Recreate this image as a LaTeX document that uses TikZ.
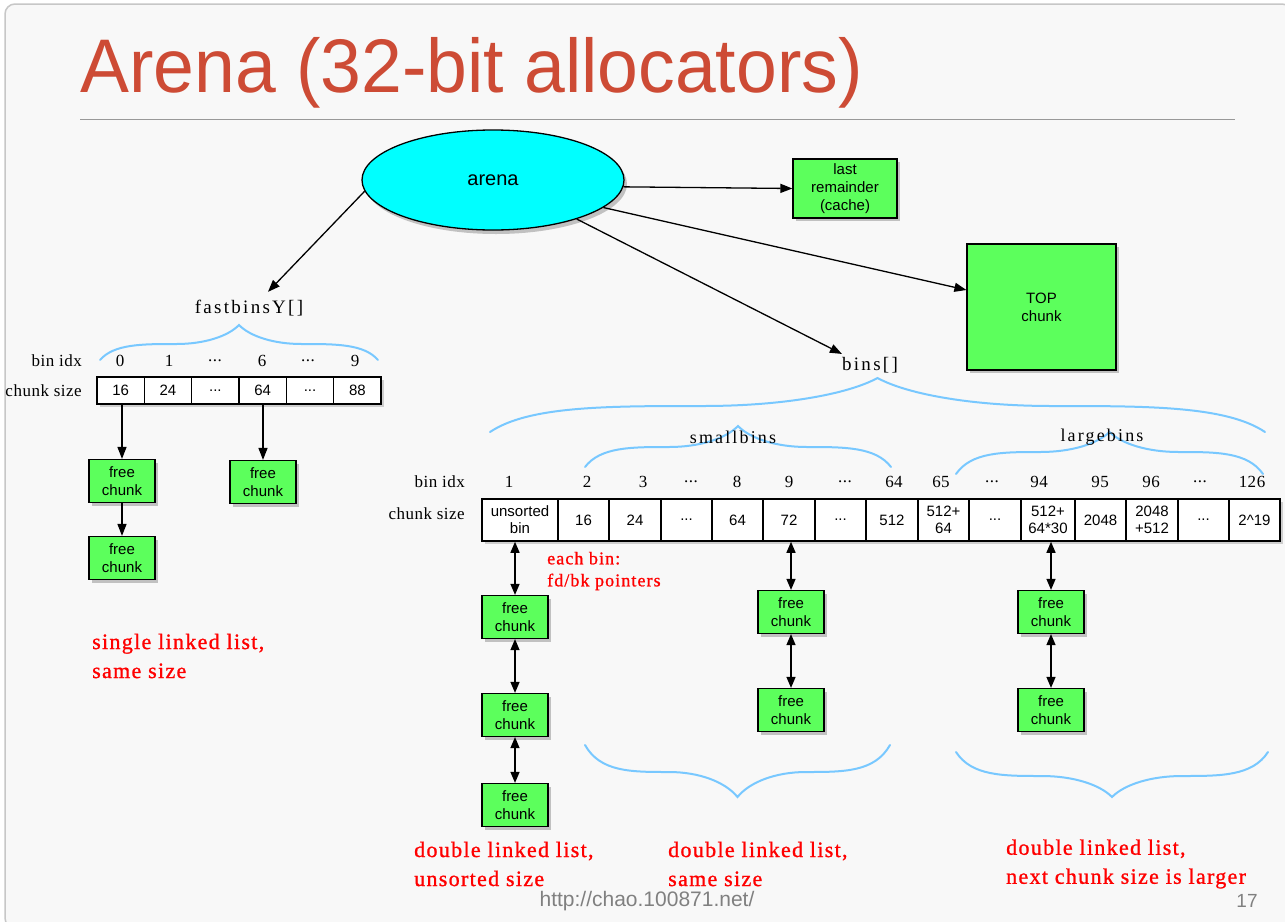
\documentclass[tikz,border=0pt]{standalone}
\usepackage{fontspec}
\setmainfont{Liberation Sans}
\newfontfamily\titlefont{Liberation Sans}
\newfontfamily\lblfont{Liberation Serif}[LetterSpace=3]
\newfontfamily\widefont{Liberation Serif}[LetterSpace=12]
\newfontfamily\redfont{Liberation Serif}[LetterSpace=6,FakeBold=1]
\usetikzlibrary{shapes.geometric,shadows,arrows.meta}

\definecolor{titlered}{RGB}{205,75,53}
\definecolor{chunkgreen}{RGB}{92,255,92}
\definecolor{arenacyan}{RGB}{0,255,255}
\definecolor{braceblue}{RGB}{120,200,255}
\definecolor{slidebg}{RGB}{248,248,248}

\newcommand\skipdots{...}

\tikzset{
  chunkbox/.style={draw, line width=1.2pt, fill=chunkgreen, align=center, inner sep=0pt,
    minimum width=66pt, minimum height=43pt, font=\fontsize{15}{18}\selectfont,
    drop shadow={shadow xshift=3pt, shadow yshift=-3pt, opacity=0.45}},
  cell/.style={draw, line width=1.5pt, fill=white, align=center, inner sep=0pt,
    font=\fontsize{15}{17}\selectfont,
    drop shadow={shadow xshift=3pt, shadow yshift=-3pt, opacity=0.35}},
  bluebrace/.style={draw=braceblue, line width=2pt, line cap=round},
  ptr/.style={-{Triangle[length=12pt,width=9pt]}, line width=1.3pt},
  dptr/.style={{Triangle[length=11pt,width=9pt]}-{Triangle[length=11pt,width=9pt]}, line width=1.3pt},
  idx/.style={inner sep=0pt, font=\lblfont\fontsize{17}{19}\selectfont},
  wide/.style={inner sep=0pt, font=\widefont\fontsize{19}{21}\selectfont},
  note/.style={text=red, align=left, inner sep=0pt, anchor=west},
}

\begin{document}
\begin{tikzpicture}[x=1pt,y=-1pt]

\useasboundingbox (0,0) rectangle (1285,921);
\fill[white] (0,0) rectangle (1285,921);
\draw[black!22, line width=1.5pt, fill=slidebg, rounded corners=10pt] (5,4) rectangle (1292,928);

% title
\node[anchor=base west, inner sep=0pt, text=titlered, xscale=0.965,
  font=\titlefont\fontsize{76}{80}\selectfont] (title) at (80,92) {Arena (32-bit allocators)};
\draw[black!40, line width=1pt] (80,119) -- (1235,119);

% arena and its direct children
\node[ellipse, draw, line width=1.3pt, fill=arenacyan, minimum width=262pt, minimum height=100pt,
  font=\fontsize{20}{24}\selectfont,
  drop shadow={shadow xshift=3pt, shadow yshift=-4pt, opacity=0.45}] (arena) at (493,180) {arena};
\node[chunkbox, minimum width=104pt, minimum height=59pt] (lastrem) at (845,188.5) {last\\remainder\\(cache)};
\node[chunkbox, minimum width=149pt, minimum height=126pt] (topchunk) at (1041.5,307) {TOP\\chunk};

\node[wide] (fastbins) at (249,308) {fastbinsY[]};
\node[wide] (binslbl) at (870,365) {bins[]};

\draw[ptr] (arena.185) -- ([xshift=19pt,yshift=8pt]fastbins.north);
\draw[ptr] (arena.-3) -- (lastrem.west);
\draw[ptr] (arena.-14) -- ([yshift=17pt]topchunk.west);
\draw[ptr] (arena.-25) -- ([yshift=3pt]binslbl.north west);

% braces
\foreach \xa/\xb/\ye/\yb/\yt in {100/378/360/344/325, 490/1265/432/406/378,
    585/891/467/447/426, 956/1263/474/452/432, 585/890/745/772/797, 956/1268/752/776/797}{
  \pgfmathsetmacro\hw{(\xb-\xa)/2}
  \pgfmathsetmacro\xm{(\xa+\xb)/2}
  \draw[bluebrace] (\xa,\ye)
    .. controls ({\xa+0.1*\hw},\yb) and ({\xa+0.3*\hw},\yb) .. ({\xa+0.55*\hw},\yb)
    .. controls ({\xm-0.25*\hw},\yb) and ({\xm-0.08*\hw},{\yb+0.4*(\yt-\yb)}) .. (\xm,\yt)
    .. controls ({\xm+0.08*\hw},{\yb+0.4*(\yt-\yb)}) and ({\xm+0.25*\hw},\yb) .. ({\xb-0.55*\hw},\yb)
    .. controls ({\xb-0.3*\hw},\yb) and ({\xb-0.1*\hw},\yb) .. (\xb,\ye);
}

\node[wide, font=\widefont\fontsize{18}{20}\selectfont] (smalllbl) at (733,437) {smallbins};
\node[wide, font=\widefont\fontsize{18}{20}\selectfont] (largelbl) at (1102,437) {largebins};

% fastbins table
\node[idx, anchor=east] (fidx) at (82,361) {bin idx};
\node[idx, anchor=east] (fsize) at (82,391) {chunk size};
\foreach \x/\t in {120/0, 169/1, 215/\skipdots, 262/6, 308/\skipdots, 355/9}
  \node[idx] at (\x,361) {\t};
\foreach \n/\xa/\xb/\t in {c0/97/144.3/16, c1/144.3/191.7/24, c2/191.7/239/\skipdots, c3/239/286.3/64,
    c4/286.3/333.7/\skipdots, c5/333.7/381/88}
  \node[cell, minimum width={(\xb-\xa)*1pt}, minimum height=27pt] (\n) at ({(\xa+\xb)/2},390.5) {\t};

\node[chunkbox] (f1) at (122,481) {free\\chunk};
\node[chunkbox] (f2) at (122,558) {free\\chunk};
\node[chunkbox] (f3) at (263,482) {free\\chunk};
\draw[ptr] (f1 |- c0.south) -- (f1.north);
\draw[ptr] (f1) -- (f2);
\draw[ptr] (f3 |- c3.south) -- (f3.north);

\node[note, font=\redfont\fontsize{22}{29}\selectfont] (fastnote) at (92,656) {single linked list,\\same size};

% bins table
\node[idx, anchor=east] (bidx) at (465,482) {bin idx};
\node[idx, anchor=east] (bsize) at (465,514) {chunk size};
\foreach \x/\t in {509/1, 587/2, 643/3, 691/\skipdots, 737/8, 789/9, 845/\skipdots, 894/64, 941/65,
    992/\skipdots, 1039/94, 1100/95, 1151/96, 1200/\skipdots, 1252/126}
  \node[idx] at (\x,482) {\t};
\foreach \n/\xa/\xb/\t in {u/482/558/unsorted\\bin, s2/558/609/16, s3/609/661/24, sd/661/712/\skipdots,
    s8/712/763/64, s9/763/815/72, sd2/815/866/\skipdots, s64/866/918/512, l65/918/969/512+\\64,
    ld/969/1021/\skipdots, l94/1021/1075/512+\\64*30, l95/1075/1126/2048, l96/1126/1178/2048\\+512,
    ld2/1178/1229/\skipdots, l126/1229/1280/2\textasciicircum19}
  \node[cell, minimum width={(\xb-\xa)*1pt}, minimum height=42pt] (\n) at ({(\xa+\xb)/2},520) {\t};

\node[note, font=\redfont\fontsize{18}{22}\selectfont] (binnote) at (547,571) {each bin:\\fd/bk pointers};

% unsorted list
\node[chunkbox] (u1) at (515,617) {free\\chunk};
\node[chunkbox] (u2) at (515,715) {free\\chunk};
\node[chunkbox] (u3) at (515,805) {free\\chunk};
\draw[dptr] (u1 |- u.south) -- (u1.north);
\draw[dptr] (u1) -- (u2);
\draw[dptr] (u2) -- (u3);

% small bin list
\node[chunkbox] (s1) at (791,612) {free\\chunk};
\node[chunkbox] (s1b) at (791,710) {free\\chunk};
\draw[dptr] (s1 |- s9.south) -- (s1.north);
\draw[dptr] (s1) -- (s1b);

% large bin list
\node[chunkbox] (l1) at (1051,612) {free\\chunk};
\node[chunkbox] (l1b) at (1051,710) {free\\chunk};
\draw[dptr] (l1 |- l94.south) -- (l1.north);
\draw[dptr] (l1) -- (l1b);

\node[note, font=\redfont\fontsize{22}{29}\selectfont] (unote) at (414,864) {double linked list,\\unsorted size};
\node[note, font=\redfont\fontsize{22}{29}\selectfont] (snote) at (668,864) {double linked list,\\same size};
\node[note, font=\redfont\fontsize{22}{29}\selectfont] (lnote) at (1006,864) {double linked list,\\next chunk size is larger};

% footer
\node[text=black!50, inner sep=0pt, font=\fontsize{21}{24}\selectfont] (url) at (647,901) {http://chao.100871.net/};
\node[text=black!50, inner sep=0pt, font=\fontsize{19}{22}\selectfont] (pageno) at (1247,901) {17};

\end{tikzpicture}
\end{document}
